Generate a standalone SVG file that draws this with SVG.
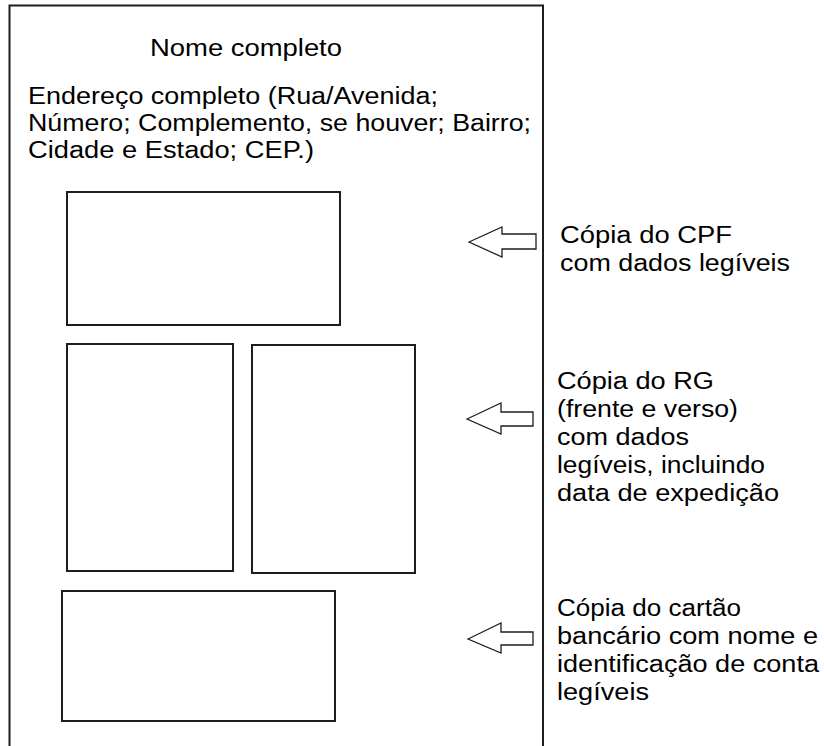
<svg xmlns="http://www.w3.org/2000/svg" width="824" height="746" viewBox="0 0 824 746">
<style>
.box{fill:#fff;stroke:#1e1e1e;stroke-width:2}
.arr{fill:#fff;stroke:#1e1e1e;stroke-width:1.3;stroke-linejoin:miter}
text{font-family:"Liberation Sans",Arial,sans-serif;font-size:23px;fill:#000}
</style>
<rect width="824" height="746" fill="#fff"/>
<g id="page">
<path class="box" d="M9.5,746 V5.5 H543 V746" fill="none"/>
<text x="150" y="56" textLength="192" lengthAdjust="spacingAndGlyphs">Nome completo</text>
<text x="28" y="104" textLength="410" lengthAdjust="spacingAndGlyphs">Endereço completo (Rua/Avenida;</text>
<text x="28" y="131" textLength="503" lengthAdjust="spacingAndGlyphs">Número; Complemento, se houver; Bairro;</text>
<text x="28" y="158" textLength="286" lengthAdjust="spacingAndGlyphs">Cidade e Estado; CEP.)</text>
</g>
<g id="cpf-box"><rect class="box" x="67" y="192" width="273" height="133"/></g>
<g id="rg-front"><rect class="box" x="67" y="344" width="166" height="227"/></g>
<g id="rg-back"><rect class="box" x="252" y="345" width="163" height="228"/></g>
<g id="card-box"><rect class="box" x="62" y="591" width="273" height="130"/></g>
<g id="connectors">
<path class="arr" d="M469,242 L502,227 V234 H536 V249 H502 V257 Z"/>
<path class="arr" d="M467,419 L501,403 V412 H533 V426 H501 V434 Z"/>
<path class="arr" d="M468,639 L501,623 V632 H533 V645 H501 V653 Z"/>
</g>
<g id="label-cpf">
<text x="560" y="243" textLength="172" lengthAdjust="spacingAndGlyphs">Cópia do CPF</text>
<text x="560" y="271" textLength="230" lengthAdjust="spacingAndGlyphs">com dados legíveis</text>
</g>
<g id="label-rg">
<text x="557" y="389" textLength="157" lengthAdjust="spacingAndGlyphs">Cópia do RG</text>
<text x="557" y="417" textLength="181" lengthAdjust="spacingAndGlyphs">(frente e verso)</text>
<text x="557" y="445" textLength="132" lengthAdjust="spacingAndGlyphs">com dados</text>
<text x="557" y="473" textLength="208" lengthAdjust="spacingAndGlyphs">legíveis, incluindo</text>
<text x="557" y="501" textLength="222" lengthAdjust="spacingAndGlyphs">data de expedição</text>
</g>
<g id="label-card">
<text x="557" y="616" textLength="184" lengthAdjust="spacingAndGlyphs">Cópia do cartão</text>
<text x="557" y="644" textLength="261" lengthAdjust="spacingAndGlyphs">bancário com nome e</text>
<text x="557" y="672" textLength="262" lengthAdjust="spacingAndGlyphs">identificação de conta</text>
<text x="557" y="700" textLength="92" lengthAdjust="spacingAndGlyphs">legíveis</text>
</g>
</svg>
